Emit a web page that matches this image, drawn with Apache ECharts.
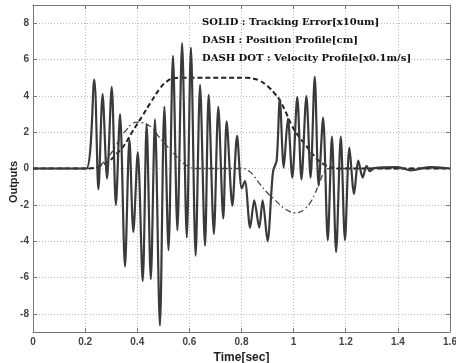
<!DOCTYPE html>
<html>
<head>
    <meta charset="utf-8">
    <title>Outputs</title>
    <script src="https://cdn.jsdelivr.net/npm/echarts@6.0.0/dist/echarts.min.js"></script>
    <style>
        body { margin: 0; background: #fff; }
        #chart { width: 456px; height: 363px; }
    </style>
</head>
<body>
    <div id="chart"></div>
    <script>
        // 跟踪误差 (实线)
        var errT = [0, 0.05, 0.1, 0.15, 0.205, 0.235, 0.251, 0.267, 0.284, 0.302, 0.318, 0.334, 0.353, 0.370, 0.385,
            0.402, 0.421, 0.436, 0.452, 0.468, 0.487, 0.504, 0.520, 0.537, 0.554, 0.572, 0.590, 0.606, 0.624, 0.641,
            0.660, 0.674, 0.694, 0.711, 0.730, 0.743, 0.765, 0.783, 0.801, 0.813, 0.833, 0.849, 0.868, 0.881, 0.900,
            0.916, 0.922, 0.935, 0.947, 0.962, 0.978, 0.995, 1.014, 1.030, 1.049, 1.065, 1.081, 1.096, 1.113, 1.131,
            1.147, 1.163, 1.181, 1.197, 1.214, 1.232, 1.248, 1.265, 1.280, 1.292, 1.31, 1.40, 1.45, 1.52, 1.6];
        var errV = [0, 0, 0, 0, 0, 4.9, -1.15, 4.1, -0.55, 4.5, -2.0, 3.0, -5.4, 1.6, -3.5,
            0.9, -6.2, 2.45, -6.1, 2.7, -8.65, 3.4, -4.5, 6.2, -3.4, 6.9, -3.8, 6.65, -4.8, 4.6,
            -4.25, 4.05, -3.6, 3.4, -2.75, 2.6, -2.05, 1.8, -1.1, -0.7, -3.25, -1.75, -3.25, -1.75, -4.0,
            -1.0, -0.1, 0.45, 3.8, 0.05, 2.75, -0.5, 3.95, -0.6, 4.0, -0.5, 5.05, -0.95, 2.8, -3.95,
            1.75, -4.6, 1.75, -3.95, 1.15, -1.4, 0.43, -0.5, 0.15, -0.15, 0.02, 0.08, -0.1, 0.08, 0];

        // 位置曲线 (虚线)
        var posT = [0, 0.215, 0.25, 0.28, 0.30, 0.32, 0.34, 0.36, 0.38, 0.40, 0.42, 0.45, 0.487, 0.51, 0.54, 0.56,
            0.82, 0.85, 0.87, 0.89, 0.91, 0.93, 0.945, 0.97, 0.99, 1.02, 1.04, 1.07, 1.095, 1.12, 1.145, 1.17, 1.6];
        var posV = [0, 0, 0.1, 0.3, 0.5, 0.8, 1.1, 1.5, 2.0, 2.45, 2.9, 3.6, 4.4, 4.75, 4.97, 5.0,
            5.0, 4.93, 4.83, 4.65, 4.4, 4.08, 3.8, 3.1, 2.45, 1.75, 1.4, 0.85, 0.45, 0.2, 0.07, 0, 0];

        // 速度曲线 (点划线)
        var velT = [0, 0.21, 0.24, 0.26, 0.28, 0.30, 0.32, 0.34, 0.36, 0.38, 0.40, 0.42, 0.44, 0.46, 0.48, 0.51,
            0.545, 0.57, 0.60, 0.62, 0.80, 0.83, 0.85, 0.87, 0.90, 0.93, 0.96, 0.99, 1.005, 1.02, 1.045, 1.065,
            1.08, 1.10, 1.12, 1.14, 1.6];
        var velV = [0, 0, 0.05, 0.2, 0.5, 0.85, 1.3, 1.8, 2.15, 2.45, 2.55, 2.52, 2.4, 2.2, 1.8, 1.3,
            0.75, 0.37, 0.08, 0, 0, -0.15, -0.45, -0.85, -1.35, -1.75, -2.15, -2.4, -2.45, -2.42, -2.2, -1.85,
            -1.45, -0.75, -0.15, 0, 0];

        var yTicks = [-8, -6, -4, -2, 0, 2, 4, 6, 8];
        var notes = ['SOLID : Tracking Error[x10um]', 'DASH : Position Profile[cm]', 'DASH DOT : Velocity Profile[x0.1m/s]'];

        function pairs(t, v) {
            return t.map(function (x, i) { return [x, v[i]]; });
        }

        var chart = echarts.init(document.getElementById('chart'));

        var gridLine = { show: true, lineStyle: { color: '#bbb', type: [1, 2], width: 1 } };
        var frame = { show: true, onZero: false, lineStyle: { color: '#777', width: 1 } };
        var tick = { show: true, inside: true, length: 4, lineStyle: { color: '#777' } };
        var labelFont = { color: '#444', fontSize: 10, fontFamily: 'Liberation Sans', fontWeight: 'bold' };

        var texts = notes.map(function (s, i) {
            return {
                type: 'text', left: 202, top: 17 + i * 18, z: 10,
                style: { text: s, fill: '#111', font: 'bold 10px "DejaVu Serif"' }
            };
        });
        // y 轴标题
        texts.push({
            type: 'text', x: 14, y: 182, rotation: Math.PI / 2, z: 10,
            style: { text: 'Outputs', fill: '#222', align: 'center', verticalAlign: 'middle', font: 'bold 11px "Liberation Sans"' }
        });

        var option = {
            backgroundColor: '#fff',
            animation: false,
            grid: { left: 33, right: 6, top: 5, bottom: 31, outerBoundsMode: 'none', containLabel: false },
            xAxis: [{
                type: 'value', min: 0, max: 1.6, interval: 0.2,
                name: 'Time[sec]', nameLocation: 'middle', nameGap: 12,
                nameTextStyle: { color: '#222', fontSize: 12, fontFamily: 'Liberation Sans', fontWeight: 'bold', verticalAlign: 'top' },
                axisLine: frame, axisTick: tick, splitLine: gridLine,
                axisLabel: Object.assign({ margin: 5 }, labelFont)
            }, {
                type: 'value', min: 0, max: 1.6, interval: 0.2, position: 'top',
                axisLine: frame, axisTick: tick, splitLine: { show: false }, axisLabel: { show: false }
            }],
            yAxis: [{
                type: 'value', min: -9, max: 9,
                axisLine: frame,
                axisTick: Object.assign({ customValues: yTicks }, tick),
                splitLine: gridLine,
                axisLabel: Object.assign({ customValues: yTicks, margin: 4 }, labelFont)
            }, {
                type: 'value', min: -9, max: 9, position: 'right',
                axisLine: frame,
                axisTick: Object.assign({ customValues: yTicks }, tick),
                splitLine: { show: false },
                axisLabel: { show: false, customValues: yTicks }
            }],
            graphic: texts,
            series: [{
                type: 'line', data: pairs(velT, velV), smooth: 0.5, symbol: 'none',
                lineStyle: { color: '#444', width: 1.3, type: [6, 3, 1.5, 3] }
            }, {
                type: 'line', data: pairs(posT, posV), smooth: 0.5, symbol: 'none',
                lineStyle: { color: '#222', width: 2, type: [5, 3] }
            }, {
                type: 'line', data: pairs(errT, errV), smooth: 0.3, symbol: 'none',
                lineStyle: { color: '#3a3a3a', width: 2.2 }
            }]
        };

        chart.setOption(option);
    </script>
</body>
</html>
